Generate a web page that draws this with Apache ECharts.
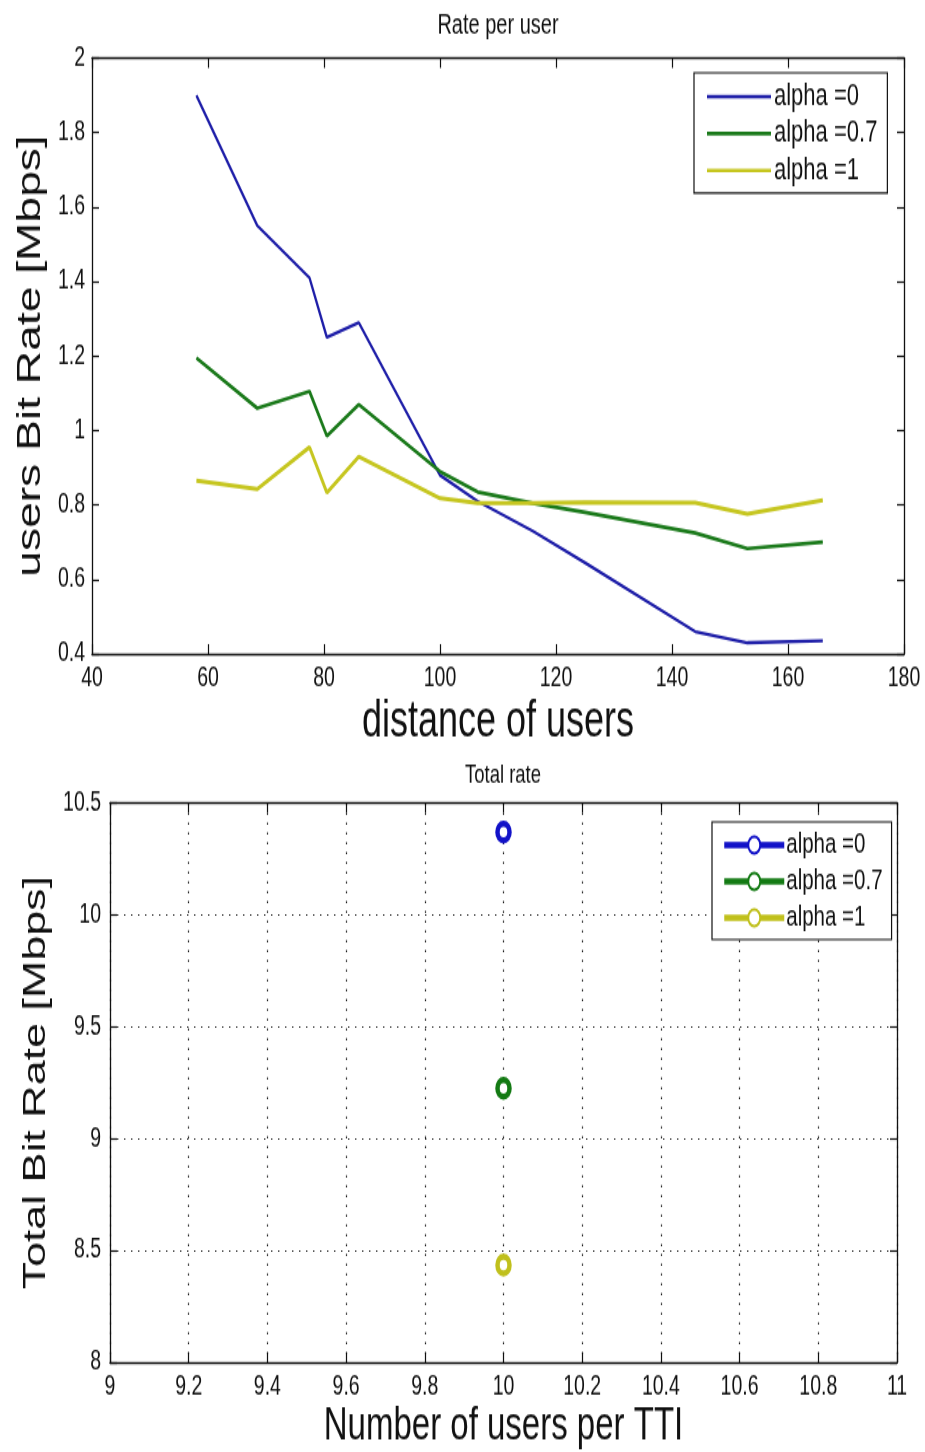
<!DOCTYPE html>
<html>
<head>
<meta charset="utf-8">
<script src="https://cdn.jsdelivr.net/npm/echarts@6.0.0/dist/echarts.min.js"></script>
<style>
  html, body { margin: 0; padding: 0; background: #fff; overflow: hidden; }
  #wrap { width: 925px; height: 1452px; overflow: hidden; }
  /* the figure is laid out at 925x1037 and stretched vertically to the page height */
  #chart { width: 925px; height: 1037px; transform-origin: 0 0; transform: scaleY(1.40019); }
</style>
</head>
<body>
<div id="wrap"><div id="chart"></div></div>
<script>
// ---- Rate per user vs. distance ----
const distance      = [58, 68.5, 77.5, 80.5, 86, 100, 106.5, 116, 125, 144, 153, 166];
const rateAlpha0    = [1.90, 1.55, 1.41, 1.25, 1.29, 0.88, 0.81, 0.73, 0.645, 0.46, 0.43, 0.435];
const rateAlpha07   = [1.195, 1.06, 1.105, 0.985, 1.07, 0.89, 0.835, 0.805, 0.78, 0.725, 0.683, 0.70];
const rateAlpha1    = [0.865, 0.843, 0.955, 0.833, 0.93, 0.818, 0.805, 0.805, 0.807, 0.806, 0.776, 0.813];

// ---- Total rate vs. users per TTI ----
const usersPerTTI   = [10];
const totalAlpha0   = [10.37];
const totalAlpha07  = [9.225];
const totalAlpha1   = [8.435];

const legendLabels  = ['alpha =0', 'alpha =0.7', 'alpha =1'];
const TOTAL_SUFFIX  = ' | total';

const FONT = "'Liberation Sans', Arial, sans-serif";
const lineColors  = ['#1e1ea8', '#1b7a1b', '#c6c620'];
const markColors  = ['#1212c8', '#137a13', '#c0c01c'];

const pairs = (xs, ys) => xs.map((x, i) => [x, ys[i]]);

function frameAxis(extra) {
  return Object.assign({
    type: 'value',
    axisLine: { show: true, onZero: false, lineStyle: { color: '#111', width: 1.3 } },
    axisTick: { show: true, inside: true, length: 7, lineStyle: { color: '#111', width: 1.2 } },
    axisLabel: { show: true, color: '#111', fontSize: 19, fontFamily: FONT },
    splitLine: { show: false }
  }, extra);
}
const hiddenLabels = { show: false };
const dotted = { show: true, lineStyle: { color: '#222', width: 1.2, type: [1.4, 5.6] } };

function totalSeries(i, values) {
  return {
    name: legendLabels[i] + TOTAL_SUFFIX, type: 'line', xAxisIndex: 2, yAxisIndex: 2,
    symbol: 'circle', symbolSize: 12, showSymbol: true,
    data: pairs(usersPerTTI, values),
    lineStyle: { color: markColors[i], width: 4.5 },
    itemStyle: { color: '#fff', borderColor: markColors[i], borderWidth: 4.5 }
  };
}

const chart = echarts.init(document.getElementById('chart'), null, { renderer: 'canvas' });

const option = {
  backgroundColor: '#fff',
  animation: false,
  textStyle: { fontFamily: FONT },
  graphic: [
    { type: 'text', x: 498, y: 18, style: { text: 'Rate per user', font: "20px " + FONT, fill: '#111', align: 'center', verticalAlign: 'middle' } },
    { type: 'text', x: 503, y: 554, style: { text: 'Total rate', font: "18.5px " + FONT, fill: '#111', align: 'center', verticalAlign: 'middle' } }
  ],
  grid: [
    { left: 92, right: 21, top: 41.5, height: 425.5, containLabel: false },
    { left: 110, right: 28, top: 573.5, height: 399.5, containLabel: false }
  ],
  xAxis: [
    frameAxis({ gridIndex: 0, position: 'bottom', min: 40, max: 180, interval: 20,
      axisLabel: { color: '#111', fontSize: 19.5, fontFamily: FONT, margin: 8 },
      name: 'distance of users', nameLocation: 'middle', nameGap: 31,
      nameTextStyle: { fontSize: 36, color: '#111', fontFamily: FONT } }),
    frameAxis({ gridIndex: 0, position: 'top', min: 40, max: 180, interval: 20, axisLabel: hiddenLabels }),
    frameAxis({ gridIndex: 1, position: 'bottom', min: 9, max: 11, interval: 0.2,
      axisLabel: { color: '#111', fontSize: 19.5, fontFamily: FONT, margin: 8 },
      splitLine: dotted,
      name: 'Number of users per TTI', nameLocation: 'middle', nameGap: 29,
      nameTextStyle: { fontSize: 33, color: '#111', fontFamily: FONT } }),
    frameAxis({ gridIndex: 1, position: 'top', min: 9, max: 11, interval: 0.2, axisLabel: hiddenLabels })
  ],
  yAxis: [
    frameAxis({ gridIndex: 0, position: 'left', min: 0.4, max: 2, interval: 0.2,
      axisLabel: { color: '#111', fontSize: 19.5, fontFamily: FONT, margin: 7 },
      name: 'users Bit Rate [Mbps]', nameLocation: 'middle', nameGap: 42, nameRotate: 90,
      nameTextStyle: { fontSize: 33, color: '#111', fontFamily: FONT } }),
    frameAxis({ gridIndex: 0, position: 'right', min: 0.4, max: 2, interval: 0.2, axisLabel: hiddenLabels }),
    frameAxis({ gridIndex: 1, position: 'left', min: 8, max: 10.5, interval: 0.5,
      axisLabel: { color: '#111', fontSize: 19.5, fontFamily: FONT, margin: 9 },
      splitLine: dotted,
      name: 'Total Bit Rate [Mbps]', nameLocation: 'middle', nameGap: 52, nameRotate: 90,
      nameTextStyle: { fontSize: 32, color: '#111', fontFamily: FONT } }),
    frameAxis({ gridIndex: 1, position: 'right', min: 8, max: 10.5, interval: 0.5, axisLabel: hiddenLabels })
  ],
  legend: [
    {
      orient: 'vertical', left: 694, top: 52,
      data: legendLabels,
      icon: 'rect', itemWidth: 64, itemHeight: 2.6, itemGap: 4.4,
      padding: [6, 10, 5, 13],
      borderColor: '#111', borderWidth: 1.2, backgroundColor: '#fff',
      textStyle: { fontSize: 22, lineHeight: 20, color: '#111', fontFamily: FONT, padding: [0, 0, 0, -2] },
      selectedMode: false
    },
    {
      orient: 'vertical', left: 712, top: 587,
      data: legendLabels.map(l => l + TOTAL_SUFFIX),
      formatter: n => n.replace(TOTAL_SUFFIX, ''),
      itemWidth: 60, itemHeight: 15, itemGap: 5,
      padding: [6, 9, 5, 10],
      borderColor: '#111', borderWidth: 1.2, backgroundColor: '#fff',
      lineStyle: { width: 4.5 },
      textStyle: { fontSize: 20.5, lineHeight: 20, color: '#111', fontFamily: FONT, padding: [0, 0, 0, -3] },
      selectedMode: false
    }
  ],
  series: [
    { name: legendLabels[0], type: 'line', xAxisIndex: 0, yAxisIndex: 0, symbol: 'none',
      data: pairs(distance, rateAlpha0), lineStyle: { color: lineColors[0], width: 2.3 }, itemStyle: { color: lineColors[0] } },
    { name: legendLabels[1], type: 'line', xAxisIndex: 0, yAxisIndex: 0, symbol: 'none',
      data: pairs(distance, rateAlpha07), lineStyle: { color: lineColors[1], width: 2.7 }, itemStyle: { color: lineColors[1] } },
    { name: legendLabels[2], type: 'line', xAxisIndex: 0, yAxisIndex: 0, symbol: 'none',
      data: pairs(distance, rateAlpha1), lineStyle: { color: lineColors[2], width: 3 }, itemStyle: { color: lineColors[2] } },
    totalSeries(0, totalAlpha0),
    totalSeries(1, totalAlpha07),
    totalSeries(2, totalAlpha1)
  ]
};

chart.setOption(option);
</script>
</body>
</html>
